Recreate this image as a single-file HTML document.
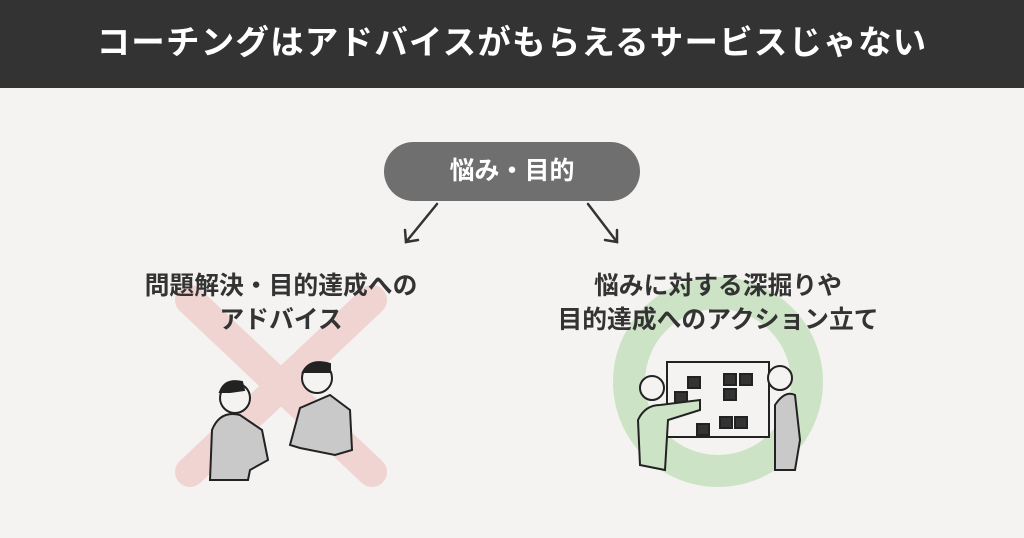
<!DOCTYPE html>
<html><head><meta charset="utf-8"><style>
body{margin:0;width:1024px;height:538px;background:#f4f3f1;position:relative;overflow:hidden;font-family:"Liberation Sans","Noto Sans CJK JP",sans-serif}
.hd{position:absolute;left:0;top:0;width:1024px;height:88px;background:#333;color:#fff;font-weight:bold;font-size:33.5px;text-align:center;line-height:88px;letter-spacing:1.2px}
.pill{position:absolute;left:384px;top:142px;width:256px;height:59px;border-radius:30px;background:#6f6f6f;color:#fff;font-weight:bold;font-size:25px;text-align:center;line-height:59px}
.lb{position:absolute;width:440px;text-align:center;font-weight:bold;font-size:24.8px;line-height:34px;color:#333}
svg{position:absolute;left:0;top:0}
</style></head><body>
<svg width="1024" height="538">
<line x1="190" y1="300" x2="372" y2="472" stroke="#efd4d2" stroke-width="30" stroke-linecap="round"/>
<line x1="372" y1="300" x2="190" y2="472" stroke="#efd4d2" stroke-width="30" stroke-linecap="round"/>
<circle cx="718" cy="382" r="89" fill="none" stroke="#cde3c6" stroke-width="32"/>
<g stroke="#333" stroke-width="2.5" fill="none" stroke-linecap="round">
<line x1="437" y1="204" x2="406" y2="242"/><polyline points="405,230 406,242 418,240"/>
<line x1="588" y1="204" x2="617" y2="242"/><polyline points="605,240 617,242 617,230"/>
</g>
<g stroke="#222" stroke-width="2" fill="#c9c9c9">
<path d="M210 480 L212 430 Q220 410 240 415 L262 430 L268 460 L250 470 L248 480Z"/>
<circle cx="235" cy="398" r="15" fill="#f4f3f1"/>
<path d="M220 392 Q225 378 242 382 L244 390 L230 392Z" fill="#222"/>
<path d="M290 445 L300 408 L330 395 L350 410 L352 450 L335 455 L300 448Z"/>
<circle cx="317" cy="378" r="15" fill="#f4f3f1"/>
<path d="M303 372 Q310 358 330 364 L330 372Z" fill="#222"/>
</g>
<g stroke="#222" stroke-width="2">
<rect x="667" y="362" width="102" height="75" fill="#f4f3f1"/>
<rect x="688" y="377" width="12" height="11" fill="#333"/><rect x="724" y="374" width="12" height="11" fill="#333"/><rect x="740" y="374" width="12" height="11" fill="#333"/>
<rect x="724" y="389" width="12" height="11" fill="#333"/><rect x="675" y="392" width="12" height="11" fill="#333"/>
<rect x="720" y="417" width="12" height="11" fill="#333"/><rect x="735" y="417" width="12" height="11" fill="#333"/><rect x="697" y="424" width="12" height="11" fill="#333"/>
<path d="M640 465 L638 420 Q645 405 660 405 L700 400 L700 410 L668 420 L665 470Z" fill="#cde3c6"/>
<circle cx="652" cy="388" r="12" fill="#f4f3f1"/>
<path d="M775 470 L775 405 Q785 390 795 395 L800 440 L795 470Z" fill="#c9c9c9"/>
<circle cx="780" cy="378" r="12" fill="#f4f3f1"/>
</g>
</svg>
<div class="hd">コーチングはアドバイスがもらえるサービスじゃない</div>
<div class="pill">悩み・目的</div>
<div class="lb" style="left:61px;top:270px">問題解決・目的達成への<br>アドバイス</div>
<div class="lb" style="left:498px;top:270px">悩みに対する深掘りや<br>目的達成へのアクション立て</div>
</body></html>
